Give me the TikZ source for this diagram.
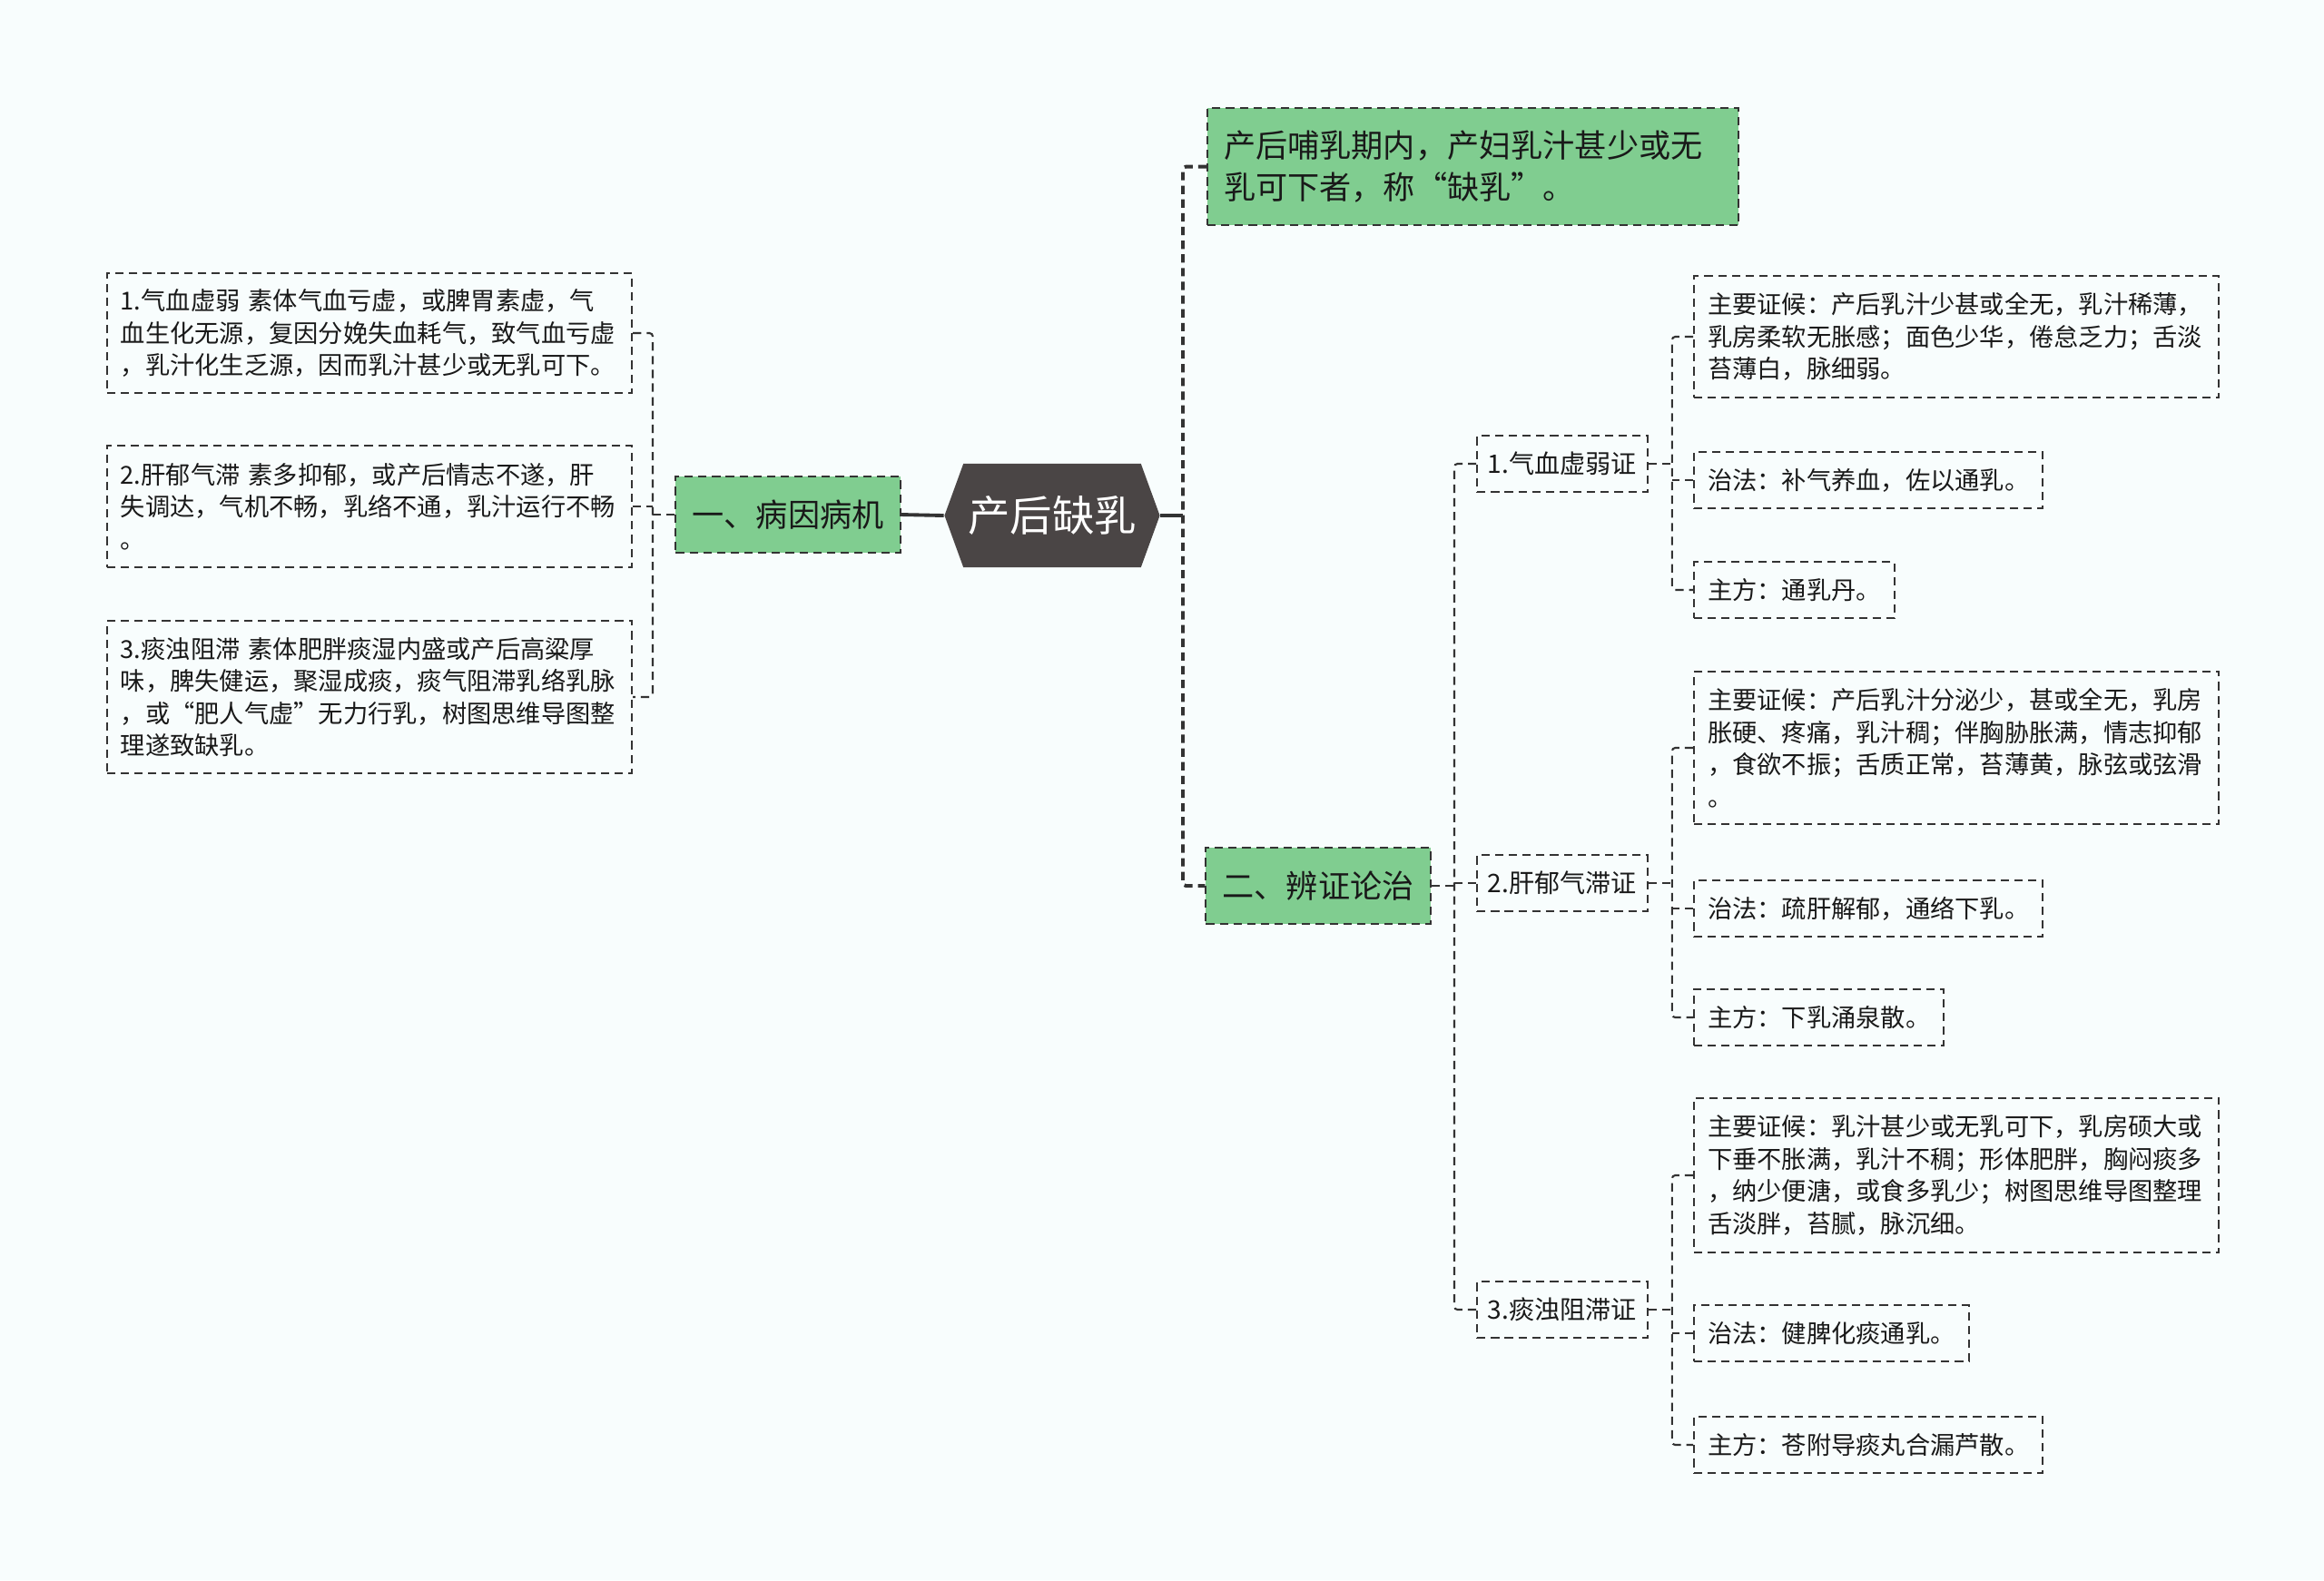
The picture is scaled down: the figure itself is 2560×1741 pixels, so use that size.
\documentclass[tikz,border=0pt]{standalone}
\usepackage{fontspec}
\setmainfont{Noto Sans CJK SC}
\usetikzlibrary{shapes.symbols}
\definecolor{bgc}{HTML}{F8FDFD}
\definecolor{greenc}{HTML}{80CD90}
\definecolor{rootc}{HTML}{4A4545}
\definecolor{linec}{HTML}{333333}
\newcommand{\leaffont}{\fontsize{7.75pt}{10.1pt}\selectfont}

\begin{document}
\begin{tikzpicture}[x=0.01cm,y=-0.01cm,
  box/.style={draw=linec,line width=0.6pt,dash pattern=on 2.6pt off 1.7pt,text=black!90,inner ysep=0pt},
  leaf/.style={box,font=\leaffont,align=left,text width=5.48cm,inner xsep=0.15cm},
  tip/.style={box,font=\leaffont,inner xsep=0.15cm,minimum height=0.62cm,anchor=west},
  sub/.style={box,font=\fontsize{8pt}{10pt}\selectfont,minimum width=1.86cm,minimum height=0.62cm},
  main/.style={box,fill=greenc,font=\fontsize{10pt}{13pt}\selectfont,inner xsep=0.175cm,minimum height=0.84cm},
  link/.style={linec,line width=0.6pt,dash pattern=on 2.6pt off 1.7pt,rounded corners=1pt},
  stem/.style={linec,line width=1.1pt}]
\fill[bgc] (0,0) rectangle (2560,1741);
\useasboundingbox (0,0) rectangle (2560,1741);

\node[signal,signal to=east and west,signal pointer angle=140,fill=rootc,text=white,
  font=\fontsize{13.2pt}{15pt}\selectfont,minimum width=2.37cm,minimum height=1.14cm,inner sep=0pt] (root) at (1159,568) {产后缺乳};

\node[main,minimum width=2.47cm] (cause) at (868,567) {一、病因病机};
\node[main,anchor=north west,align=left,text width=5.49cm,inner xsep=0.18cm,minimum height=1.29cm] (intro) at (1329,118) {产后哺乳期内，产妇乳汁甚少或无\\乳可下者，称“缺乳”。};
\node[main,minimum width=2.47cm] (treat) at (1452,976) {二、辨证论治};

\node[leaf,minimum height=1.32cm] (c1) at (407,367) {1.气血虚弱 素体气血亏虚，或脾胃素虚，气\\血生化无源，复因分娩失血耗气，致气血亏虚\\，乳汁化生乏源，因而乳汁甚少或无乳可下。};
\node[leaf,minimum height=1.34cm] (c2) at (407,558) {2.肝郁气滞 素多抑郁，或产后情志不遂，肝\\失调达，气机不畅，乳络不通，乳汁运行不畅\\。};
\node[leaf,minimum height=1.68cm] (c3) at (407,768) {3.痰浊阻滞 素体肥胖痰湿内盛或产后高粱厚\\味，脾失健运，聚湿成痰，痰气阻滞乳络乳脉\\，或“肥人气虚”无力行乳，树图思维导图整\\理遂致缺乳。};

\node[sub] (s1) at (1721,511) {1.气血虚弱证};
\node[sub] (s2) at (1721,973) {2.肝郁气滞证};
\node[sub] (s3) at (1721,1443) {3.痰浊阻滞证};

\node[leaf,anchor=west,minimum height=1.34cm] (a1) at (1865,371) {主要证候：产后乳汁少甚或全无，乳汁稀薄，\\乳房柔软无胀感；面色少华，倦怠乏力；舌淡\\苔薄白，脉细弱。};
\node[tip] (a2) at (1865,529) {治法：补气养血，佐以通乳。};
\node[tip] (a3) at (1865,650) {主方：通乳丹。};
\node[leaf,anchor=west,minimum height=1.68cm] (b1) at (1865,824) {主要证候：产后乳汁分泌少，甚或全无，乳房\\胀硬、疼痛，乳汁稠；伴胸胁胀满，情志抑郁\\，食欲不振；舌质正常，苔薄黄，脉弦或弦滑\\。};
\node[tip] (b2) at (1865,1001) {治法：疏肝解郁，通络下乳。};
\node[tip] (b3) at (1865,1121) {主方：下乳涌泉散。};
\node[leaf,anchor=west,minimum height=1.70cm] (d1) at (1865,1295) {主要证候：乳汁甚少或无乳可下，乳房硕大或\\下垂不胀满，乳汁不稠；形体肥胖，胸闷痰多\\，纳少便溏，或食多乳少；树图思维导图整理\\舌淡胖，苔腻，脉沉细。};
\node[tip] (d2) at (1865,1469) {治法：健脾化痰通乳。};
\node[tip] (d3) at (1865,1592) {主方：苍附导痰丸合漏芦散。};

\coordinate (rj) at (1303,568);
\coordinate (lj) at (719,567);
\coordinate (tj) at (1602,976);
\draw[stem] (root.west) -- (cause.east);
\draw[stem] (root.east) -- (rj);
\draw[link,line width=1.1pt] (intro.west) -| (rj) |- (treat.west);
\draw[link] (cause.west) -- (lj);
\draw[link] (c1.east) -| (lj) |- (c3.east);
\draw[link] (c2.east) -- (c2.east -| lj);
\draw[link] (treat.east) -- (tj);
\draw[link] (s1.west) -| (tj) |- (s3.west);
\draw[link] (s2.west) -- (s2.west -| tj);
\foreach \s/\p/\q/\r in {s1/a1/a2/a3,s2/b1/b2/b3,s3/d1/d2/d3}{
  \draw[link] (\s.east) -- ++(26,0) coordinate (\s j);
  \draw[link] (\p.west) -| (\s j) |- (\r.west);
  \draw[link] (\q.west) -- (\q.west -| \s j);
}
\end{tikzpicture}
\end{document}
